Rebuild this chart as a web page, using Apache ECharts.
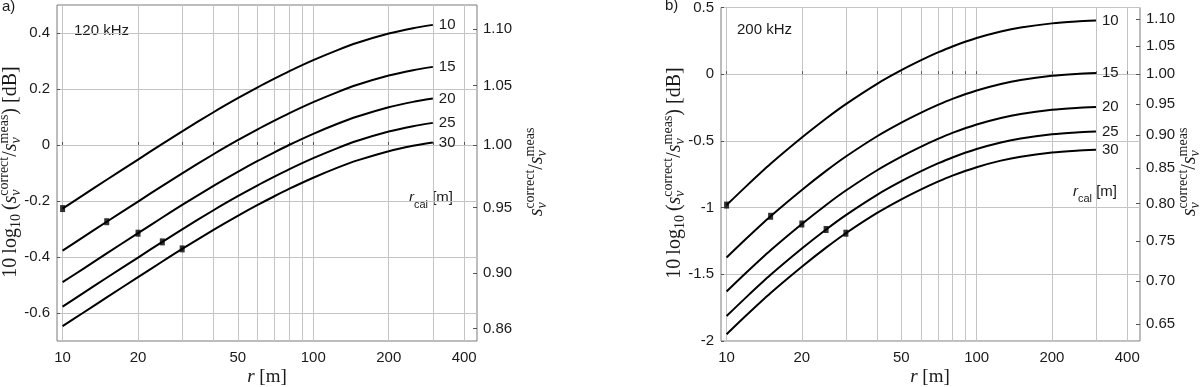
<!DOCTYPE html>
<html>
<head>
<meta charset="utf-8">
<script src="https://cdn.jsdelivr.net/npm/echarts@6/dist/echarts.min.js"></script>
<style>
    html, body { margin: 0; padding: 0; background: #fff; }
    #chart { width: 1200px; height: 387px; }
</style>
</head>
<body>
<div id="chart"></div>
<script>
// range r [m] where the curves are read
var rValues = [10, 12, 15, 20, 25, 30, 40, 50, 60, 70, 80, 100, 125, 150, 200, 250, 300];
// calibration range of each curve
var calRanges = [10, 15, 20, 25, 30];

// a) 120 kHz, correction in dB
var a10 = [-0.227, -0.181, -0.124, -0.052, 0.004, 0.049, 0.117, 0.167, 0.206, 0.237, 0.263, 0.303, 0.339, 0.365, 0.398, 0.417, 0.429];
var a15 = [-0.377, -0.331, -0.274, -0.202, -0.146, -0.101, -0.033, 0.017, 0.056, 0.087, 0.113, 0.153, 0.189, 0.215, 0.248, 0.267, 0.279];
var a20 = [-0.490, -0.444, -0.387, -0.315, -0.259, -0.214, -0.146, -0.096, -0.057, -0.026, 0.000, 0.040, 0.076, 0.102, 0.135, 0.154, 0.166];
var a25 = [-0.577, -0.531, -0.474, -0.402, -0.346, -0.301, -0.233, -0.183, -0.144, -0.113, -0.087, -0.047, -0.011, 0.015, 0.048, 0.067, 0.079];
var a30 = [-0.647, -0.601, -0.544, -0.472, -0.416, -0.371, -0.303, -0.253, -0.214, -0.183, -0.157, -0.117, -0.081, -0.055, -0.022, -0.003, 0.009];

// b) 200 kHz, correction in dB
var b10 = [-0.981, -0.839, -0.672, -0.475, -0.332, -0.224, -0.072, 0.030, 0.105, 0.163, 0.208, 0.271, 0.320, 0.350, 0.381, 0.395, 0.402];
var b15 = [-1.374, -1.232, -1.065, -0.868, -0.725, -0.617, -0.465, -0.363, -0.288, -0.230, -0.185, -0.122, -0.073, -0.043, -0.012, 0.002, 0.009];
var b20 = [-1.629, -1.487, -1.320, -1.123, -0.980, -0.872, -0.720, -0.618, -0.543, -0.485, -0.440, -0.377, -0.328, -0.298, -0.267, -0.253, -0.246];
var b25 = [-1.813, -1.671, -1.504, -1.307, -1.164, -1.056, -0.904, -0.802, -0.727, -0.669, -0.624, -0.561, -0.512, -0.482, -0.451, -0.437, -0.430];
var b30 = [-1.949, -1.807, -1.640, -1.443, -1.300, -1.192, -1.040, -0.938, -0.863, -0.805, -0.760, -0.697, -0.648, -0.618, -0.587, -0.573, -0.566];

// ticks
var xGridValues = [10, 20, 30, 40, 50, 60, 70, 80, 90, 100, 200, 300, 400];
var xLabelValues = [10, 20, 50, 100, 200, 400];
var dbTicksA = [-0.6, -0.4, -0.2, 0, 0.2, 0.4];
var ratioTicksA = [0.86, 0.90, 0.95, 1.00, 1.05, 1.10];
var dbTicksB = [-2, -1.5, -1, -0.5, 0, 0.5];
var ratioTicksB = [0.65, 0.70, 0.75, 0.80, 0.85, 0.90, 0.95, 1.00, 1.05, 1.10];

var SANS = "'Liberation Sans', Arial, sans-serif";
var SERIF = "'Liberation Serif', 'Times New Roman', serif";
var INK = '#1a1a1a';

var myChart = echarts.init(document.getElementById('chart'));

// text with sub/superscripts, built from pieces
var measureCtx = document.createElement('canvas').getContext('2d');
function mathText(parts, cx, cy, rotation) {
    var x = 0, prevStart = 0, prevW = 0;
    var children = [];
    parts.forEach(function (p) {
        var font = (p.italic ? 'italic ' : '') + (p.size || 20) + 'px ' + (p.family || SERIF);
        measureCtx.font = font;
        var w = measureCtx.measureText(p.text).width;
        var startX = p.stack ? prevStart : x;
        children.push({
            type: 'text', x: startX, y: p.dy || 0,
            style: { text: p.text, font: font, fill: INK, align: 'left', verticalAlign: 'middle' }
        });
        if (p.stack) {
            prevW = Math.max(prevW, w);
            x = prevStart + prevW;
        } else {
            prevStart = x; prevW = w; x += w;
        }
    });
    children.forEach(function (c) { c.x -= x / 2; });
    return { type: 'group', x: cx, y: cy, rotation: rotation || 0, children: children, silent: true };
}

function sRatio(sup) {
    return [
        { text: 's', italic: true },
        { text: sup, size: 14, dy: -7 },
        { text: 'v', size: 14, italic: true, dy: 5, stack: true }
    ];
}
var ratioParts = [].concat(sRatio('correct'), [{ text: '/' }], sRatio('meas'));
var dbParts = [{ text: '10\u2009log' }, { text: '10', size: 14, dy: 5 }, { text: '\u2009(' }]
    .concat(ratioParts, [{ text: ')' }, { text: ' [dB]' }]);
var rParts = [{ text: 'r', italic: true, size: 19 }, { text: ' [m]', size: 19 }];
var rcalParts = [
    { text: 'r', italic: true, size: 15, family: SANS },
    { text: 'cal', size: 11, family: SANS, dy: 7 },
    { text: ' [m]', size: 15, family: SANS }
];

function xAxisFor(gridIndex) {
    return {
        type: 'log', logBase: 10, gridIndex: gridIndex, min: 9.5, max: 450,
        axisLine: { show: false },
        axisTick: { show: true, inside: true, length: 3, customValues: xGridValues, lineStyle: { color: '#555' } },
        axisLabel: { customValues: xLabelValues, color: INK, fontSize: 15, fontFamily: SANS, margin: 9 },
        splitLine: { show: true, lineStyle: { color: '#c4c4c4', width: 1 } }
    };
}

function yAxesFor(gridIndex, min, max, dbTicks, ratioTicks) {
    var ratioPos = ratioTicks.map(function (q) { return 10 * Math.log10(q); });
    return [{
        type: 'value', gridIndex: gridIndex, min: min, max: max, position: 'left',
        axisLine: { show: false },
        axisTick: { show: true, inside: true, length: 3, customValues: dbTicks, lineStyle: { color: '#555' } },
        axisLabel: { customValues: dbTicks, color: INK, fontSize: 15, fontFamily: SANS, margin: 7 },
        splitLine: { show: true, lineStyle: { color: '#c4c4c4', width: 1 } }
    }, {
        type: 'value', gridIndex: gridIndex, min: min, max: max, position: 'right',
        axisLine: { show: false },
        axisTick: { show: true, inside: true, length: 4, customValues: ratioPos, lineStyle: { color: '#555' } },
        axisLabel: {
            customValues: ratioPos, color: INK, fontSize: 15, fontFamily: SANS, margin: 6,
            formatter: function (v) { return Math.pow(10, v / 10).toFixed(2); }
        },
        splitLine: { show: false }
    }];
}

function panelSeries(curves, gridIndex) {
    var out = [];
    curves.forEach(function (vals, k) {
        var rc = calRanges[k];
        out.push({
            name: String(rc), type: 'line', xAxisIndex: gridIndex, yAxisIndex: gridIndex * 2,
            data: rValues.map(function (r, i) { return [r, vals[i]]; }),
            smooth: 0.25, showSymbol: false, symbol: 'none',
            lineStyle: { color: '#000', width: 2 },
            endLabel: { show: true, formatter: '{a}', distance: 6, color: INK, fontSize: 15, fontFamily: SANS }
        });
        out.push({
            type: 'scatter', xAxisIndex: gridIndex, yAxisIndex: gridIndex * 2,
            symbol: 'rect', symbolSize: [5, 7], z: 5,
            itemStyle: { color: '#000' },
            data: [[rc, vals[rValues.indexOf(rc)]]]
        });
    });
    return out;
}

var option = {
    animation: false,
    backgroundColor: '#fff',
    grid: [
        { left: 57, top: 5, width: 420, height: 336, show: true, borderColor: '#7a7a7a', borderWidth: 1 },
        { left: 721, top: 5, width: 419, height: 336, show: true, borderColor: '#7a7a7a', borderWidth: 1 }
    ],
    xAxis: [xAxisFor(0), xAxisFor(1)],
    yAxis: [].concat(
        yAxesFor(0, -0.7, 0.5, dbTicksA, ratioTicksA),
        yAxesFor(1, -2, 0.5, dbTicksB, ratioTicksB)
    ),
    series: [].concat(
        panelSeries([a10, a15, a20, a25, a30], 0),
        panelSeries([b10, b15, b20, b25, b30], 1)
    ),
    graphic: [
        { type: 'text', x: 2, y: 7, silent: true, style: { text: 'a)', font: '15px ' + SANS, fill: INK, verticalAlign: 'middle' } },
        { type: 'text', x: 665, y: 6, silent: true, style: { text: 'b)', font: '15px ' + SANS, fill: INK, verticalAlign: 'middle' } },
        { type: 'text', x: 74, y: 31, silent: true, style: { text: '120 kHz', font: '15px ' + SANS, fill: INK, verticalAlign: 'middle' } },
        { type: 'text', x: 737, y: 30, silent: true, style: { text: '200 kHz', font: '15px ' + SANS, fill: INK, verticalAlign: 'middle' } },
        mathText(rcalParts, 431, 198),
        mathText(rcalParts, 1095, 192),
        mathText(rParts, 267, 377),
        mathText(rParts, 930, 377),
        mathText(dbParts, 11, 172, Math.PI / 2),
        mathText(dbParts, 675, 173, Math.PI / 2),
        mathText(ratioParts, 537, 172, Math.PI / 2),
        mathText(ratioParts, 1190, 172, Math.PI / 2)
    ]
};
myChart.setOption(option);
</script>
</body>
</html>
